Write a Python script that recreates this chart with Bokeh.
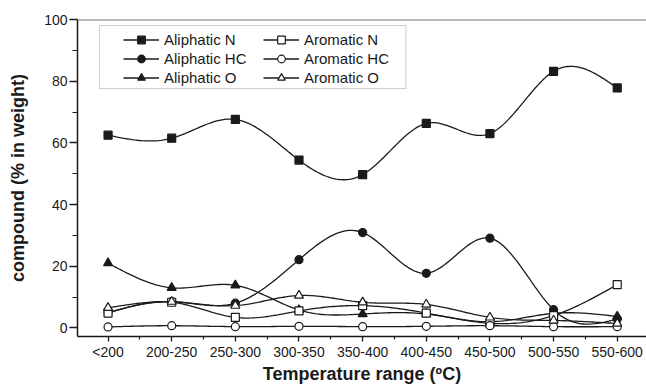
import numpy as np
from bokeh.plotting import figure
from bokeh.models import Range1d, Legend, LegendItem, Span, FixedTicker, BoxAnnotation
from bokeh.embed import file_html
from bokeh.resources import INLINE

categories = ["<200", "200-250", "250-300", "300-350", "350-400",
              "400-450", "450-500", "500-550", "550-600"]

aliphatic_n = [62.5, 61.5, 67.6, 54.4, 49.7, 66.3, 63.0, 83.2, 77.8]
aliphatic_hc = [5.0, 8.5, 8.0, 22.1, 30.9, 17.7, 29.1, 5.9, 2.9]
aliphatic_o = [21.0, 13.0, 13.8, 5.8, 4.5, 4.5, 2.0, 4.7, 3.7]
aromatic_n = [4.8, 8.3, 3.4, 5.5, 7.2, 4.8, 1.5, 4.0, 14.0]
aromatic_hc = [0.3, 0.7, 0.4, 0.5, 0.4, 0.5, 0.7, 0.4, 0.4]
aromatic_o = [6.5, 8.5, 7.2, 10.5, 8.3, 7.6, 3.4, 2.4, 1.4]

series = [
    ("Aliphatic N", aliphatic_n, "square", True),
    ("Aliphatic HC", aliphatic_hc, "circle", True),
    ("Aliphatic O", aliphatic_o, "triangle", True),
    ("Aromatic N", aromatic_n, "square", False),
    ("Aromatic HC", aromatic_hc, "circle", False),
    ("Aromatic O", aromatic_o, "triangle", False),
]


def natural_spline(xs, ys, per=24):
    x = np.asarray(xs, float)
    y = np.asarray(ys, float)
    n = len(x)
    h = np.diff(x)
    A = np.zeros((n, n))
    b = np.zeros(n)
    A[0, 0] = 1.0
    A[-1, -1] = 1.0
    for i in range(1, n - 1):
        A[i, i - 1] = h[i - 1]
        A[i, i] = 2 * (h[i - 1] + h[i])
        A[i, i + 1] = h[i]
        b[i] = 6 * ((y[i + 1] - y[i]) / h[i] - (y[i] - y[i - 1]) / h[i - 1])
    M = np.linalg.solve(A, b)
    out_x, out_y = [], []
    for i in range(n - 1):
        t = np.linspace(x[i], x[i + 1], per, endpoint=(i == n - 2))
        a = x[i + 1] - t
        c = t - x[i]
        s = (M[i] * a ** 3 + M[i + 1] * c ** 3) / (6 * h[i]) \
            + (y[i] / h[i] - M[i] * h[i] / 6) * a \
            + (y[i + 1] / h[i] - M[i + 1] * h[i] / 6) * c
        out_x.extend(t.tolist())
        out_y.extend(s.tolist())
    return out_x, out_y


FONT = "Liberation Sans"
INK = "#1a1a1a"

p = figure(width=646, height=388, output_backend="svg", toolbar_location=None,
           x_range=Range1d(-0.48, 8.46), y_range=Range1d(-2.8, 100),
           min_border_left=77, min_border_right=0, min_border_top=19,
           min_border_bottom=52, background_fill_color="white",
           border_fill_color="white")
p.outline_line_color = None
p.xgrid.visible = False
p.ygrid.visible = False

# legend frame (drawn behind the legend entries)
p.add_layout(BoxAnnotation(left=-0.135, right=4.68, top=98.05, bottom=77.6,
                           fill_color="white", fill_alpha=1.0,
                           line_color="#555555", line_width=1, level="annotation"))

xs = list(range(len(categories)))
items = []
for name, vals, marker, filled in series:
    cx, cy = natural_spline(xs, vals)
    lr = p.line(cx, cy, line_color=INK, line_width=1.3)
    size = 9 if marker == "triangle" else 8
    mr = p.scatter(xs, vals, marker=marker, size=size,
                   fill_color=INK if filled else "white",
                   line_color=INK, line_width=1.2)
    items.append(LegendItem(label=name, renderers=[lr, mr]))

p.add_layout(Span(location=100, dimension="width", line_color="#777777",
                  line_width=2))

legend = Legend(items=items, location=(46, 249), orientation="vertical",
                nrows=3, glyph_width=36, glyph_height=19, label_height=19,
                label_width=99, spacing=0, padding=0, margin=0, label_standoff=5,
                label_text_font=FONT, label_text_font_size="15px",
                label_text_color=INK, border_line_color=None,
                background_fill_alpha=0.0)
p.add_layout(legend)

p.xaxis.ticker = FixedTicker(ticks=xs, minor_ticks=[i + 0.5 for i in range(-1, 9)])
p.xaxis.major_label_overrides = {i: c for i, c in enumerate(categories)}
p.yaxis.ticker = FixedTicker(ticks=[0, 20, 40, 60, 80, 100],
                             minor_ticks=[10, 30, 50, 70, 90])

for ax in (p.xaxis[0], p.yaxis[0]):
    ax.axis_line_color = INK
    ax.axis_line_width = 1.5
    ax.major_tick_line_color = INK
    ax.minor_tick_line_color = INK
    ax.major_tick_line_width = 1.3
    ax.minor_tick_line_width = 1.2
    ax.major_tick_in = 0
    ax.minor_tick_in = 0
    ax.major_label_text_font = FONT
    ax.major_label_text_font_size = "14px"
    ax.major_label_text_color = INK
    ax.axis_label_text_font = FONT
    ax.axis_label_text_font_size = "18px"
    ax.axis_label_text_font_style = "bold"
    ax.axis_label_text_color = INK

p.xaxis.major_tick_out = 5
p.xaxis.minor_tick_out = 3
p.yaxis.major_tick_out = 8
p.yaxis.minor_tick_out = 5
p.xaxis.major_label_standoff = 2
p.yaxis.major_label_standoff = 2
p.xaxis.axis_label = "Temperature range (ºC)"
p.yaxis.axis_label = "compound (% in weight)"
p.xaxis.axis_label_standoff = 1
p.yaxis.axis_label_standoff = 13

open("out.html", "w").write(file_html(p, INLINE))
